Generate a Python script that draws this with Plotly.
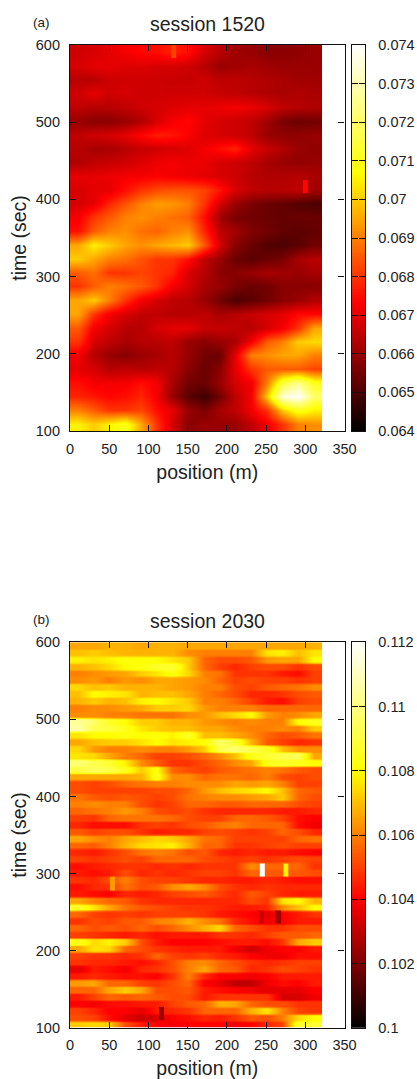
import numpy as np
import plotly.graph_objects as go

W, H = 417, 1079
FONT = "Liberation Sans"
HOT = [[0, "#000000"], [1/3, "#ff0000"], [2/3, "#ffff00"], [1, "#ffffff"]]

# values in units of 1e-4, rows from t=600 (top) down to t=100, columns from position 0 to 321 m
session_1520 = [
[667,668,670,672,674,675,677,675,668,664,661,660,658,658,659,660],
[668,670,670,669,669,668,668,667,664,660,661,662,661,660,660,660],
[664,664,667,667,667,667,666,666,667,665,665,664,663,662,661,661],
[667,670,667,668,667,667,667,667,667,666,665,664,663,662,663,662],
[665,664,664,665,667,668,669,670,670,671,672,671,668,665,664,663],
[660,658,658,660,663,668,672,674,670,668,667,665,661,656,654,655],
[665,667,668,670,674,677,676,673,669,668,667,665,660,659,659,660],
[664,662,662,664,666,667,668,669,672,675,678,670,666,663,660,659],
[663,665,666,667,669,671,672,671,671,668,667,665,662,660,659,660],
[670,670,671,672,672,673,672,671,670,668,667,664,663,663,664,662],
[668,670,670,675,680,683,684,684,682,676,668,665,664,664,665,661],
[668,670,678,684,690,694,693,690,680,668,660,656,654,653,651,650],
[672,680,685,690,692,690,688,686,675,661,656,655,654,653,654,654],
[675,685,690,692,688,686,690,692,678,665,661,657,655,653,652,653],
[695,705,700,695,692,695,697,700,685,668,658,654,651,650,652,655],
[700,695,690,688,684,680,680,675,665,660,654,652,654,656,662,664],
[685,688,680,680,682,680,678,668,664,658,658,660,662,661,660,662],
[680,685,690,688,685,680,672,668,662,660,656,654,655,658,658,658],
[695,700,690,680,672,668,665,664,660,655,650,652,655,658,660,663],
[695,680,672,668,665,665,664,664,665,662,664,666,668,670,674,674],
[685,672,668,664,664,668,670,670,666,666,665,664,668,672,680,695],
[680,668,665,662,664,664,665,660,658,660,662,672,685,690,700,702],
[672,664,660,658,660,662,664,660,655,654,670,690,692,695,695,690],
[670,668,664,665,664,665,664,658,654,658,670,680,685,685,685,682],
[675,672,672,672,675,672,662,655,654,660,668,672,690,715,725,710],
[678,676,674,675,678,672,660,652,648,655,665,672,700,735,740,720],
[690,685,680,680,682,675,670,660,656,662,665,672,680,700,710,705],
[705,700,705,710,695,680,668,658,660,660,660,665,672,680,690,692],
]

session_2030 = [
[1066,1066,1068,1068,1066,1068,1068,1066,1066,1066,1066,1066,1066,1066,1066,1068],
[1070,1072,1070,1068,1068,1068,1068,1062,1060,1060,1060,1060,1076,1078,1070,1076],
[1078,1076,1078,1082,1080,1080,1076,1072,1056,1052,1052,1054,1064,1066,1066,1080],
[1068,1070,1074,1080,1082,1086,1088,1072,1056,1050,1046,1050,1052,1052,1048,1052],
[1060,1062,1064,1066,1072,1076,1082,1074,1060,1058,1048,1048,1048,1044,1042,1050],
[1062,1064,1060,1064,1062,1066,1066,1064,1062,1056,1050,1052,1050,1050,1048,1050],
[1074,1070,1072,1068,1068,1068,1066,1064,1060,1060,1052,1050,1054,1056,1058,1062],
[1070,1080,1078,1076,1068,1070,1070,1066,1060,1056,1052,1046,1046,1048,1052,1054],
[1068,1072,1068,1070,1078,1080,1076,1072,1060,1060,1056,1050,1044,1042,1050,1052],
[1060,1062,1062,1064,1066,1072,1072,1074,1064,1060,1060,1060,1056,1056,1056,1056],
[1062,1062,1060,1060,1058,1058,1058,1062,1064,1070,1074,1080,1064,1060,1062,1066],
[1104,1096,1086,1080,1072,1072,1068,1068,1064,1062,1060,1062,1060,1060,1080,1084],
[1106,1092,1090,1084,1076,1072,1070,1070,1066,1066,1062,1060,1060,1062,1060,1072],
[1076,1080,1080,1082,1080,1082,1078,1086,1070,1070,1066,1062,1056,1052,1054,1058],
[1066,1070,1072,1072,1076,1080,1076,1078,1080,1096,1088,1068,1054,1050,1046,1048],
[1074,1064,1060,1060,1062,1060,1060,1064,1072,1092,1098,1092,1086,1070,1062,1062],
[1076,1074,1066,1060,1056,1050,1050,1052,1056,1062,1070,1084,1088,1092,1094,1066],
[1098,1092,1088,1078,1062,1054,1048,1048,1052,1056,1062,1066,1084,1086,1084,1080],
[1090,1094,1092,1084,1072,1082,1056,1052,1050,1054,1056,1058,1060,1058,1054,1052],
[1066,1066,1066,1066,1068,1084,1062,1062,1056,1058,1058,1056,1060,1052,1050,1052],
[1052,1050,1052,1056,1058,1060,1060,1062,1062,1062,1066,1064,1066,1060,1050,1050],
[1052,1050,1050,1050,1050,1052,1052,1056,1064,1070,1074,1076,1080,1070,1056,1054],
[1058,1054,1052,1054,1052,1050,1052,1058,1060,1062,1062,1064,1066,1072,1056,1052],
[1060,1062,1060,1060,1052,1048,1050,1056,1056,1054,1054,1056,1056,1056,1052,1050],
[1056,1058,1060,1064,1060,1052,1050,1052,1048,1046,1046,1046,1046,1044,1044,1046],
[1050,1048,1056,1058,1058,1058,1056,1052,1050,1050,1056,1056,1054,1050,1042,1040],
[1046,1042,1042,1042,1048,1050,1048,1052,1054,1058,1060,1056,1056,1056,1042,1038],
[1054,1050,1052,1052,1048,1044,1046,1046,1050,1052,1050,1048,1050,1056,1052,1046],
[1066,1062,1060,1066,1070,1074,1072,1066,1058,1056,1050,1050,1050,1050,1056,1058],
[1056,1054,1060,1068,1074,1076,1078,1068,1056,1056,1048,1048,1050,1052,1050,1050],
[1046,1044,1048,1052,1058,1060,1058,1052,1054,1046,1044,1046,1044,1044,1042,1040],
[1050,1048,1050,1052,1050,1056,1056,1056,1052,1050,1048,1050,1048,1050,1052,1050],
[1042,1044,1046,1048,1048,1046,1048,1046,1048,1048,1048,1062,1056,1056,1056,1048],
[1044,1042,1044,1052,1046,1048,1046,1048,1050,1050,1048,1056,1054,1054,1054,1052],
[1048,1046,1052,1060,1052,1050,1050,1048,1046,1046,1044,1044,1046,1044,1042,1042],
[1042,1046,1048,1058,1052,1054,1062,1066,1062,1052,1048,1046,1048,1046,1046,1046],
[1044,1042,1040,1046,1044,1046,1050,1052,1054,1050,1046,1054,1050,1046,1044,1044],
[1066,1060,1056,1054,1048,1046,1046,1046,1046,1046,1046,1052,1048,1076,1080,1068],
[1086,1076,1066,1058,1054,1052,1050,1048,1048,1046,1044,1044,1046,1062,1070,1080],
[1056,1050,1048,1050,1048,1050,1050,1050,1048,1044,1042,1040,1036,1040,1044,1048],
[1048,1052,1050,1054,1054,1060,1062,1068,1062,1058,1046,1042,1038,1040,1044,1044],
[1056,1052,1054,1052,1056,1052,1056,1062,1068,1074,1056,1052,1048,1048,1052,1052],
[1050,1048,1046,1044,1046,1042,1044,1044,1044,1048,1048,1046,1050,1054,1054,1056],
[1084,1074,1078,1072,1052,1044,1040,1040,1040,1042,1044,1044,1042,1048,1066,1072],
[1066,1076,1074,1056,1052,1048,1046,1044,1044,1044,1038,1032,1038,1040,1040,1044],
[1050,1048,1048,1046,1048,1056,1050,1048,1050,1046,1044,1040,1038,1038,1042,1042],
[1048,1046,1046,1044,1042,1046,1052,1060,1062,1056,1052,1048,1046,1048,1050,1050],
[1036,1044,1042,1038,1046,1048,1052,1060,1066,1056,1054,1046,1048,1052,1050,1048],
[1044,1046,1044,1042,1042,1040,1048,1060,1046,1040,1040,1038,1040,1044,1044,1044],
[1064,1066,1056,1056,1050,1048,1052,1056,1040,1036,1030,1030,1038,1042,1040,1044],
[1056,1056,1066,1072,1066,1052,1052,1054,1044,1042,1040,1038,1036,1036,1036,1040],
[1044,1050,1056,1054,1056,1054,1052,1052,1044,1048,1048,1048,1048,1034,1034,1038],
[1040,1038,1042,1042,1044,1044,1050,1054,1056,1068,1066,1056,1052,1052,1048,1048],
[1050,1046,1040,1040,1036,1044,1046,1048,1056,1056,1056,1068,1076,1060,1050,1048],
[1052,1050,1042,1036,1032,1034,1040,1042,1046,1044,1048,1054,1052,1060,1074,1080],
[1072,1074,1072,1052,1044,1040,1038,1040,1040,1040,1038,1040,1046,1050,1088,1088],
]

# isolated cells: (pos0, pos1, t0, t1, value in 1e-4)
spots_1520 = [(129, 135, 583, 600, 682), (297, 303, 408, 425, 674)]
spots_2030 = [(242, 248.5, 296, 313, 1120), (272, 278.5, 296, 313, 1078),
              (113.5, 120, 110, 127, 1024), (261.5, 269, 235, 252, 1025),
              (241, 247, 235, 252, 1032), (51, 57.5, 278, 296, 1064)]

panels = [
    dict(tag="(a)", title="session 1520", z=session_1520, spots=spots_1520, rep=1,
         vmin=0.064, vmax=0.074, dtick=0.001, top=45, bottom=431),
    dict(tag="(b)", title="session 2030", z=session_2030, spots=spots_2030, rep=3,
         vmin=0.100, vmax=0.112, dtick=0.002, top=642.3, bottom=1027.7),
]
POS_MAX = 321
fig = go.Figure()
tickfont = dict(family=FONT, size=14.5, color="#222222")
titlefont = dict(family=FONT, size=19.5, color="#222222")
annotations = []

for i, p in enumerate(panels):
    n = 2 * i + 1
    xa, ya = f"x{n}", f"y{n}"
    xb, yb = f"x{n+1}", f"y{n+1}"
    key = lambda a, k: f"{a}axis{k if k > 1 else ''}"
    z = np.repeat(np.array(p["z"], dtype=float)[::-1] * 1e-4, p["rep"], axis=0)
    rows, cols = z.shape
    common = dict(colorscale=HOT, zmin=p["vmin"], zmax=p["vmax"], showscale=False)
    fig.add_trace(go.Heatmap(z=z, x0=POS_MAX / cols / 2, dx=POS_MAX / cols,
                             y0=100 + 500 / rows / 2, dy=500 / rows,
                             zsmooth="best", xaxis=xa, yaxis=ya, **common))
    for x0, x1, t0, t1, v in p["spots"]:
        fig.add_trace(go.Heatmap(z=[[v * 1e-4]], x=[x0, x1], y=[t0, t1],
                                 xaxis=xa, yaxis=ya, **common))
    levels = np.linspace(p["vmin"], p["vmax"], 201)
    fig.add_trace(go.Heatmap(z=levels[:, None], x=[0], y=levels,
                             xaxis=xb, yaxis=yb, **common))
    dom_y = [1 - p["bottom"] / H, 1 - p["top"] / H]
    axis_line = dict(showline=True, linecolor="#111111", linewidth=1.2, mirror="allticks",
                     ticks="inside", ticklen=6, tickcolor="#111111", tickwidth=1,
                     showgrid=False, zeroline=False, tickfont=tickfont, automargin=False)
    fig.update_layout({
        key("x", n): dict(domain=[70 / W, 344.5 / W], range=[0, 350], dtick=50, tick0=0,
                          anchor=ya, ticklabelstandoff=4,
                          title=dict(text="position (m)", font=titlefont, standoff=9),
                          **axis_line),
        key("y", n): dict(domain=dom_y, range=[100, 600], dtick=100, tick0=100, anchor=xa,
                          ticklabelstandoff=6,
                          title=dict(text="time (sec)", font=titlefont, standoff=3),
                          **axis_line),
        key("x", n + 1): dict(domain=[351.5 / W, 365.3 / W], anchor=yb, showticklabels=False,
                              ticks="", showgrid=False, zeroline=False, showline=True,
                              linecolor="#111111", linewidth=1.2, mirror=True, automargin=False),
        key("y", n + 1): dict(domain=dom_y, range=[p["vmin"], p["vmax"]], dtick=p["dtick"],
                              tick0=p["vmin"], anchor=xb, side="right",
                              ticklabelstandoff=9,
                              **axis_line),
    })
    annotations.append(dict(text=p["title"], x=207 / W, y=1 - (p["top"] - 21) / H, xref="paper",
                            yref="paper", showarrow=False, font=dict(family=FONT, size=19.5, color="#222222"),
                            xanchor="center", yanchor="middle"))
    annotations.append(dict(text=p["tag"], x=31 / W, xanchor="left", y=1 - (p["top"] - 22.5) / H,
                            xref="paper", yref="paper", showarrow=False,
                            font=dict(family=FONT, size=13.5, color="#222222"), yanchor="middle"))

fig.update_layout(width=W, height=H, autosize=False, margin=dict(l=0, r=0, t=0, b=0),
                  paper_bgcolor="white", plot_bgcolor="white", showlegend=False,
                  annotations=annotations)
fig.write_html("out.html", config=dict(displayModeBar=False),
               post_script="document.body.style.margin='0';document.documentElement.style.overflow='hidden';")
